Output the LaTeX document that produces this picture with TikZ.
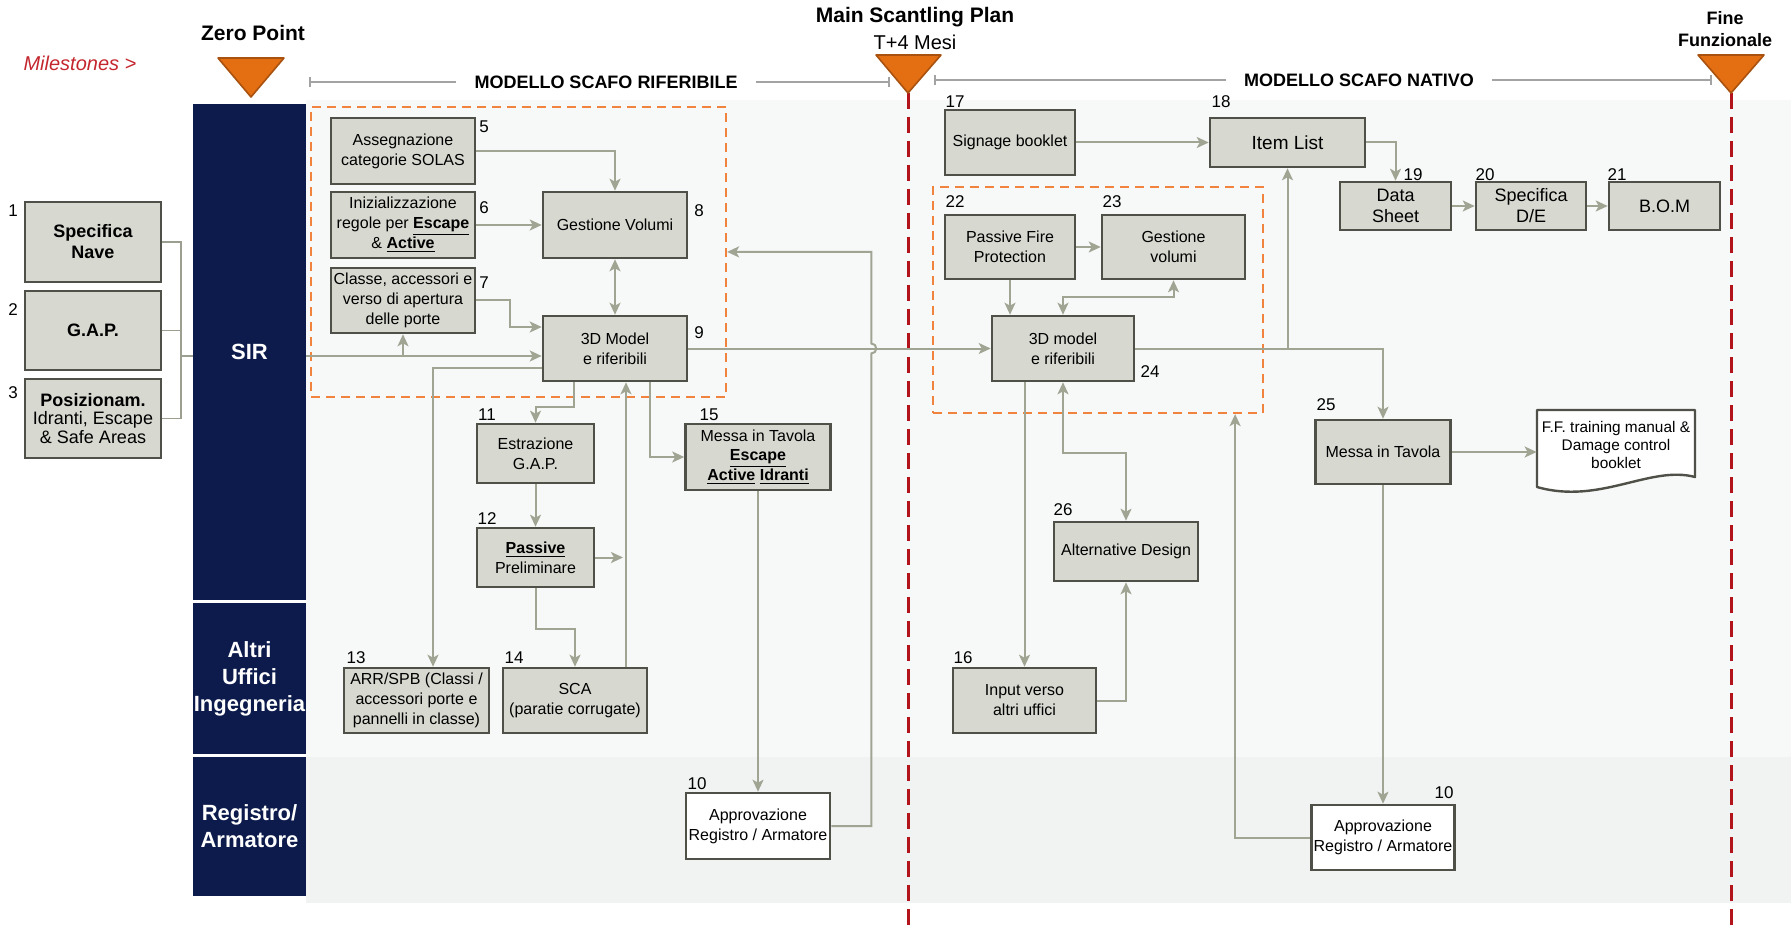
\documentclass[tikz,border=0pt]{standalone}
\usepackage{fontspec}
\setmainfont{Liberation Sans}
\usetikzlibrary{arrows.meta,calc}

\definecolor{boxfill}{HTML}{D7D8D0}
\definecolor{boxline}{HTML}{4F5148}
\definecolor{flow}{HTML}{A0A593}
\definecolor{navy}{HTML}{0C1B4B}
\definecolor{mileorange}{HTML}{E46E12}
\definecolor{mileedge}{HTML}{A9520F}
\definecolor{cutred}{HTML}{B3131B}
\definecolor{orangedash}{HTML}{F0833E}
\definecolor{mstext}{HTML}{C4262E}
\definecolor{hdrgray}{HTML}{A3A3A3}
\definecolor{panel}{HTML}{F7F8F8}
\definecolor{lanefill}{HTML}{F1F2F2}

\newcommand\bxfont{\fontsize{8}{10}\selectfont}
\newcommand\bigbxfont{\fontsize{9}{10.5}\selectfont}
\newcommand\numfont{\fontsize{8.5}{10}\selectfont}
\newcommand\ub[1]{\underline{\textbf{#1}}}

\begin{document}
\begin{tikzpicture}[x=0.5pt, y=-0.5pt,
  box/.style={draw=boxline, fill=boxfill, line width=1.3pt, align=center,
    inner sep=0pt, font=\bxfont},
  wbox/.style={box, fill=white},
  num/.style={inner sep=0pt, font=\numfont},
  arr/.style={draw=flow, line width=1pt, -{Stealth[length=6pt,width=5.5pt,inset=1.5pt]}},
  arr2/.style={draw=flow, line width=1pt,
    {Stealth[length=6pt,width=5.5pt,inset=1.5pt]}-{Stealth[length=6pt,width=5.5pt,inset=1.5pt]}},
  link/.style={draw=flow, line width=1pt},
  brk/.style={draw=flow!85!gray, line width=0.7pt},
  lane/.style={fill=navy, text=white, align=center, inner sep=0pt,
    font=\fontsize{11}{13.5}\selectfont\bfseries},
  grp/.style={draw=orangedash, line width=1.1pt, dash pattern=on 4.5pt off 3pt,
    inner sep=0pt},
  milestone/.style={fill=mileorange, draw=mileedge, line width=0.8pt, line join=round},
  cutoff/.style={draw=cutred, line width=1.5pt, dash pattern=on 8pt off 4pt},
  hdr/.style={draw=hdrgray, line width=0.6pt},
  hdrtext/.style={font=\fontsize{9}{10}\selectfont\bfseries, inner xsep=9pt, inner ysep=0pt},
  mtitle/.style={font=\fontsize{10.5}{12}\selectfont\bfseries, inner sep=0pt}
]
\useasboundingbox (0,0) rectangle (1791,930);

% page backdrop
\fill[panel] (306,100) rectangle (1791,903);
\fill[lanefill] (306,757) rectangle (1791,903);

% swimlane labels
\node[lane, minimum width=56.5pt, minimum height=248pt] (sir) at (249.5,352) {SIR};
\node[lane, minimum width=56.5pt, minimum height=75.5pt] (altri) at (249.5,678.5) {Altri\\Uffici\\Ingegneria};
\node[lane, minimum width=56.5pt, minimum height=69.5pt] (reg) at (249.5,826.5) {Registro/\\Armatore};

% milestones
\node[font=\fontsize{10}{12}\selectfont\itshape, text=mstext, inner sep=0pt] (mslabel) at (80,63) {Milestones >};
\node[mtitle] (zp) at (253,33) {Zero Point};
\node[mtitle] (msp) at (915,17) {Main Scantling Plan};
\node[font=\fontsize{10}{12}\selectfont, inner sep=0pt] (msp2) at (915,42) {T+4 Mesi};
\node[font=\fontsize{9}{11}\selectfont\bfseries, inner sep=0pt, align=center] (ff) at (1725,29) {Fine\\Funzionale};

% phase headers
\node[hdrtext] (h1) at (606,82) {MODELLO SCAFO RIFERIBILE};
\node[hdrtext] (h2) at (1359,80) {MODELLO SCAFO NATIVO};
\draw[hdr] (310,82) -- (h1.west);
\draw[hdr] (h1.east) -- (890,82);
\draw[hdr] (310,77) -- (310,87);
\draw[hdr] (889,77) -- (889,87);
\draw[hdr] (935,80) -- (h2.west);
\draw[hdr] (h2.east) -- (1711,80);
\draw[hdr] (935,75) -- (935,85);
\draw[hdr] (1711,75) -- (1711,85);

% milestone cut-off lines and markers
\draw[cutoff] (908,93) -- (908,930);
\draw[cutoff] (1731,93) -- (1731,930);
\filldraw[milestone] (218,58) -- (284,58) -- (251,97) -- cycle;
\filldraw[milestone] (876,55) -- (941,55) -- (908,93) -- cycle;
\filldraw[milestone] (1698,55) -- (1764,55) -- (1731,93) -- cycle;

% dashed groups
\node[grp, minimum width=207.5pt, minimum height=145pt] (grp1) at (518.5,252) {};
\node[grp, minimum width=165pt, minimum height=113pt] (grp2) at (1098,300) {};

% inputs
\node[box, minimum width=68pt, minimum height=40pt, font=\fontsize{9}{10.5}\selectfont\bfseries] (b1) at (93,242) {Specifica\\Nave};
\node[box, minimum width=68pt, minimum height=39.5pt, font=\fontsize{9}{10.5}\selectfont\bfseries] (b2) at (93,330.5) {G.A.P.};
\node[box, minimum width=68pt, minimum height=39.5pt, font=\fontsize{9}{9.2}\selectfont] (b3) at (93,418.5) {\textbf{Posizionam.}\\Idranti, Escape\\\& Safe Areas};

% reference hull model
\node[box, minimum width=72pt, minimum height=33pt] (b5) at (403,151) {Assegnazione\\categorie SOLAS};
\node[box, minimum width=72pt, minimum height=33pt] (b6) at (403,225) {Inizializzazione\\regole per \ub{Escape}\\\& \ub{Active}};
\node[box, minimum width=72pt, minimum height=32.5pt] (b7) at (403,300.5) {Classe, accessori e\\verso di apertura\\delle porte};
\node[box, minimum width=72pt, minimum height=33pt] (b8) at (615,225) {Gestione Volumi};
\node[box, minimum width=72pt, minimum height=32.5pt] (b9) at (615,348.5) {3D Model\\e riferibili};
\node[box, minimum width=58.5pt, minimum height=29.5pt] (b11) at (535.5,453.5) {Estrazione\\G.A.P.};
\node[box, minimum width=58.5pt, minimum height=29.5pt] (b12) at (535.5,557.5) {\ub{Passive}\\Preliminare};
\node[box, minimum width=72.5pt, minimum height=33pt, font=\fontsize{8}{9.7}\selectfont] (b15) at (758,457) {Messa in Tavola\\\ub{Escape}\\\ub{Active} \ub{Idranti}};
\node[box, minimum width=72.5pt, minimum height=32.5pt] (b13) at (416.5,700.5) {ARR/SPB (Classi /\\accessori porte e\\pannelli in classe)};
\node[box, minimum width=72pt, minimum height=32.5pt] (b14) at (575,700.5) {SCA\\(paratie corrugate)};
\node[wbox, minimum width=72pt, minimum height=33pt] (b10a) at (758,826) {Approvazione\\Registro / Armatore};

% native hull model
\node[box, minimum width=65pt, minimum height=32.5pt] (b17) at (1010,142.5) {Signage booklet};
\node[box, minimum width=77.5pt, minimum height=24.5pt, font=\fontsize{9.5}{11}\selectfont] (b18) at (1287.5,142.5) {Item List};
\node[box, minimum width=55.5pt, minimum height=24pt, font=\bigbxfont] (b19) at (1395.5,206) {Data\\Sheet};
\node[box, minimum width=55pt, minimum height=24pt, font=\bigbxfont] (b20) at (1531,206) {Specifica\\D/E};
\node[box, minimum width=55.5pt, minimum height=24pt, font=\bigbxfont] (b21) at (1664.5,206) {B.O.M};
\node[box, minimum width=65pt, minimum height=32pt] (b22) at (1010,247) {Passive Fire\\Protection};
\node[box, minimum width=71.5pt, minimum height=32pt] (b23) at (1173.5,247) {Gestione\\volumi};
\node[box, minimum width=71pt, minimum height=32.5pt] (b24) at (1063,348.5) {3D model\\e riferibili};
\node[box, minimum width=67.5pt, minimum height=32pt] (b25) at (1383,452) {Messa in Tavola};
\node[box, minimum width=72pt, minimum height=29.5pt] (b26) at (1126,551.5) {Alternative Design};
\node[box, minimum width=71.5pt, minimum height=32.5pt] (b16) at (1024.5,700.5) {Input verso\\altri uffici};
\node[wbox, minimum width=71.5pt, minimum height=32.5pt] (b10b) at (1383,837.5) {Approvazione\\Registro / Armatore};

% document output with wavy bottom edge
\coordinate (docnw) at (1537,410);
\filldraw[fill=white, draw=boxline, line width=1.2pt, line join=round]
  (docnw) -- ++(158,0) -- ++(0,67)
  .. controls ($(docnw)+(113,55)$) and ($(docnw)+(63,95)$) .. ($(docnw)+(0,77)$) -- cycle;
\node[inner sep=0pt, align=center, font=\fontsize{7.7}{9}\selectfont,
  minimum width=79pt, minimum height=35pt] (doc) at ($(docnw)+(79,35)$)
  {F.F. training manual \&\\Damage control\\booklet};

% step numbers
\node[num] (n1) at (13,211) {1};
\node[num] (n2) at (13,310) {2};
\node[num] (n3) at (13,393) {3};
\node[num] (n5) at (484,127) {5};
\node[num] (n6) at (484,208) {6};
\node[num] (n7) at (484,283) {7};
\node[num] (n8) at (699,211) {8};
\node[num] (n9) at (699,333) {9};
\node[num] (n11) at (487,415) {11};
\node[num] (n15) at (709,415) {15};
\node[num] (n12) at (487,519) {12};
\node[num] (n13) at (356,658) {13};
\node[num] (n14) at (514,658) {14};
\node[num] (n10a) at (697,784) {10};
\node[num] (n17) at (955,102) {17};
\node[num] (n18) at (1221,102) {18};
\node[num] (n19) at (1413,175) {19};
\node[num] (n20) at (1485,175) {20};
\node[num] (n21) at (1617,175) {21};
\node[num] (n22) at (955,202) {22};
\node[num] (n23) at (1112,202) {23};
\node[num] (n24) at (1150,372) {24};
\node[num] (n25) at (1326,405) {25};
\node[num] (n26) at (1063,510) {26};
\node[num] (n16) at (963,658) {16};
\node[num] (n10b) at (1444,793) {10};

% input bracket into SIR
\coordinate (bus) at (181,356);
\draw[brk] (b1.east) -| (bus);
\draw[brk] (b3.east) -| (bus);
\draw[brk] (b2.east) -- (b2.east -| bus);
\draw[brk] (bus) -- (bus -| sir.west);

% flows in the reference model
\coordinate (b9in) at ($(b9.west)+(0,7.5)$);
\draw[arr] (bus -| sir.east) -- (b9in);
\draw[arr] (b7.south |- b9in) -- (b7.south);
\draw[arr] (b5.east) -| (b8.north);
\draw[arr] (b6.east) -- (b8.west);
\draw[arr] (b7.east) -- ++(34,0) |- ($(b9.west)+(0,-21.5)$);
\draw[arr2] (b8.south) -- (b9.north);
\draw[arr] ($(b9.west)+(0,19.5)$) -| ($(b13.north)+(16.5,0)$);
\draw[arr] ($(b9.south)+(-41,0)$) -- ++(0,25) -| (b11.north);
\draw[arr] ($(b9.south)+(35,0)$) |- (b15.west);
\coordinate (b14n) at ($(b14.north)+(51,0)$);
\draw[arr] (b14n) -- (b14n |- b9.south);
\draw[arr] (b11.south) -- (b12.north);
\draw[arr] (b12.east) -- ($(b14n |- b12.east)+(-3,0)$);
\draw[arr] (b12.south) -- ++(0,41) -| (b14.north);
\draw[arr] (b15.south) -- (b10a.north);

% hand-over to the native model
\draw[arr] (b9.east) -- (b24.west);
\coordinate (fb1) at ($(b10a.east)+(40,0)$);
\coordinate (g1in) at ($(grp1.north east)+(0,146)$);
\draw[arr] (b10a.east) -- (fb1) -- ($(fb1 |- b9.east)+(0,5)$)
  arc[start angle=-90, end angle=90, radius=2.5pt] -- (fb1 |- g1in) -- (g1in);

% flows in the native model
\draw[arr] (b17.east) -- (b18.west);
\draw[arr] (b18.east) -| (b19.north);
\draw[arr] (b19.east) -- (b20.west);
\draw[arr] (b20.east) -- (b21.west);
\draw[arr] (b22.east) -- (b23.west);
\draw[arr] (b22.south) -- (b22.south |- b24.north);
\draw[arr2] (b24.north) -- ++(0,-18) -| (b23.south);
\draw[arr] (b24.east) -| (b25.north);
\draw[arr] (b18.south |- b24.east) -- (b18.south);
\draw[arr] (b25.east) -- (b25.east -| doc.west);
\draw[arr] (b16.north |- b24.south) -- (b16.north);
\draw[arr2] (b24.south) -- ++(0,71) -| (b26.north);
\draw[arr] (b16.east) -| (b26.south);
\draw[arr] (b25.south) -- (b10b.north);
\draw[arr] (b10b.west) -| ($(grp2.south east)+(-29,0)$);

\end{tikzpicture}
\end{document}
